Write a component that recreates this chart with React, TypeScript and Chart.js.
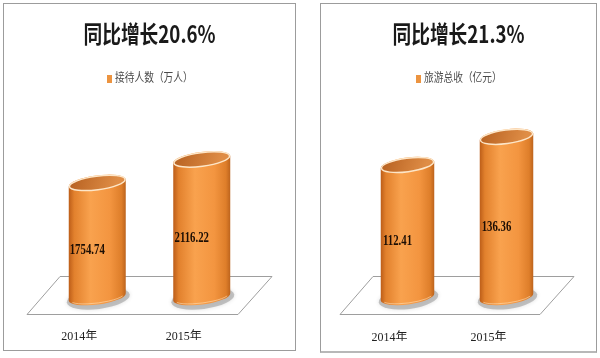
import React, { useEffect, useRef } from "react";
import { Chart, registerables } from "chart.js";

Chart.register(...registerables);

// ---- data ----
const years = ["2014年", "2015年"];
const visitors = [1754.74, 2116.22];
const revenue = [112.41, 136.36];
const visitorsTitle = "同比增长20.6%";
const revenueTitle = "同比增长21.3%";
const visitorsLegend = "接待人数（万人）";
const revenueLegend = "旅游总收（亿元）";
const visitorsMax = 3000;
const revenueMax = 166;

const ORANGE = "#ec9440";

function drawCylinder(ctx: CanvasRenderingContext2D, x: number, yt: number, yb: number, rx: number) {
  const ry = 7.5;
  const rot = -0.13;
  ctx.save();
  // ground shadow
  ctx.beginPath();
  ctx.ellipse(x + 1, yb + 1.5, rx + 3, ry + 3, rot, 0, Math.PI * 2);
  ctx.fillStyle = "rgba(160,160,160,0.6)";
  ctx.shadowColor = "rgba(0,0,0,0.2)";
  ctx.shadowBlur = 4;
  ctx.fill();
  ctx.shadowBlur = 0;
  ctx.shadowColor = "transparent";
  // body
  const g = ctx.createLinearGradient(x - rx, 0, x + rx, 0);
  g.addColorStop(0, "#bb5c18");
  g.addColorStop(0.1, "#e2812d");
  g.addColorStop(0.38, "#f9a24e");
  g.addColorStop(0.72, "#f39540");
  g.addColorStop(0.92, "#de7e2a");
  g.addColorStop(1, "#bb621c");
  ctx.beginPath();
  ctx.ellipse(x, yb, rx, ry, rot, 0, Math.PI, false);
  ctx.ellipse(x, yt, rx, ry, rot, Math.PI, Math.PI * 2, false);
  ctx.closePath();
  ctx.fillStyle = g;
  ctx.fill();
  // bottom highlight
  ctx.beginPath();
  ctx.ellipse(x, yb, rx - 1.5, ry - 1.5, rot, 0.12 * Math.PI, 0.88 * Math.PI);
  ctx.strokeStyle = "rgba(255,228,190,0.55)";
  ctx.lineWidth = 1;
  ctx.stroke();
  // top face
  const tg = ctx.createLinearGradient(x - rx, yt - ry, x + rx * 0.6, yt + ry);
  tg.addColorStop(0, "#b55f1f");
  tg.addColorStop(1, "#df8d46");
  ctx.beginPath();
  ctx.ellipse(x, yt, rx - 0.7, ry - 0.7, rot, 0, Math.PI * 2);
  ctx.fillStyle = tg;
  ctx.fill();
  ctx.strokeStyle = "#fde6c8";
  ctx.lineWidth = 1.5;
  ctx.stroke();
  ctx.restore();
}

function condensedText(ctx: CanvasRenderingContext2D, text: string, x: number, y: number, font: string, color: string, sx: number, align: CanvasTextAlign) {
  ctx.save();
  ctx.font = font;
  ctx.fillStyle = color;
  ctx.textAlign = align;
  ctx.textBaseline = "middle";
  ctx.translate(x, y);
  ctx.scale(sx, 1);
  ctx.fillText(text, 0, 0);
  ctx.restore();
}

const decorPlugin = {
  id: "decor",
  beforeDatasetsDraw(chart: any) {
    const { ctx, chartArea } = chart;
    const L = chartArea.left, R = chartArea.right, B = chartArea.bottom;
    const yLow = Math.round(B + 17) + 0.5;
    const yHigh = Math.round(B - 21) + 0.5;
    ctx.save();
    ctx.beginPath();
    ctx.moveTo(L - 18, yLow);
    ctx.lineTo(R - 16, yLow);
    ctx.lineTo(R + 18, yHigh);
    ctx.lineTo(L + 15, yHigh);
    ctx.closePath();
    ctx.fillStyle = "#ffffff";
    ctx.fill();
    ctx.strokeStyle = "#9e9e9e";
    ctx.lineWidth = 1;
    ctx.stroke();
    ctx.restore();
  },
  afterDatasetsDraw(chart: any) {
    const { ctx } = chart;
    const meta = chart.getDatasetMeta(0);
    const values = chart.data.datasets[0].data as number[];
    meta.data.forEach((bar: any) => {
      const { x, y, base, width } = bar.getProps(["x", "y", "base", "width"], true);
      drawCylinder(ctx, x, y, base, width / 2);
    });
    meta.data.forEach((bar: any, i: number) => {
      const { x, y, base } = bar.getProps(["x", "y", "base"], true);
      condensedText(ctx, values[i].toFixed(2), x - 10, (y + base) / 2 + 10,
        'bold 15px "Liberation Serif"', "#1c0e04", 0.72, "center");
    });
  },
  afterDraw(chart: any, _args: any, opts: any) {
    const { ctx } = chart;
    const cx = chart.width / 2;
    condensedText(ctx, opts.title, cx, 30, 'bold 24px "Noto Sans CJK SC"', "#1a1a1a", 0.78, "center");
    // legend
    ctx.save();
    ctx.font = '12px "Liberation Serif", "Noto Sans CJK SC"';
    const sx = 0.81;
    const tw = ctx.measureText(opts.legend).width * sx;
    const total = 5 + 3 + tw;
    const x0 = Math.round(cx - total / 2);
    ctx.fillStyle = opts.color;
    ctx.fillRect(x0, 71, 5, 8);
    ctx.restore();
    condensedText(ctx, opts.legend, x0 + 8, 75, '12px "Liberation Serif", "Noto Sans CJK SC"', "#4a4a4a", sx, "left");
  },
};

type PanelProps = {
  values: number[];
  title: string;
  legend: string;
  yMax: number;
  width: number;
  height: number;
  padLeft: number;
  padRight: number;
  padBottom: number;
  tickPad: number;
  axisHeight: number;
  barPct: number;
};

function Panel(p: PanelProps) {
  const ref = useRef<HTMLCanvasElement | null>(null);
  useEffect(() => {
    if (!ref.current) return;
    const chart = new Chart(ref.current, {
      type: "bar",
      data: {
        labels: years,
        datasets: [
          {
            label: p.legend,
            data: p.values,
            backgroundColor: "rgba(0,0,0,0)",
            borderWidth: 0,
            barPercentage: p.barPct,
            categoryPercentage: 1,
          },
        ],
      },
      options: {
        animation: false,
        responsive: false,
        maintainAspectRatio: false,
        layout: { padding: { left: p.padLeft, right: p.padRight, top: 98, bottom: p.padBottom } },
        plugins: {
          legend: { display: false },
          title: { display: false },
          tooltip: { enabled: false },
          decor: { title: p.title, legend: p.legend, color: ORANGE },
        } as any,
        scales: {
          x: {
            grid: { display: false, drawTicks: false },
            border: { display: false },
            afterFit: (scale: any) => { scale.height = p.axisHeight; },
            ticks: {
              padding: p.tickPad,
              labelOffset: -18,
              color: "#222",
              font: { family: '"Liberation Serif", "Noto Sans CJK SC"', size: 12 },
            },
          },
          y: { display: false, min: 0, max: p.yMax },
        },
      },
      plugins: [decorPlugin as any],
    });
    return () => chart.destroy();
  }, []);
  return <canvas ref={ref} width={p.width} height={p.height} style={{ width: p.width, height: p.height, display: "block" }} />;
}

export default function App() {
  return (
    <div style={{ position: "absolute", left: 0, top: 0, width: 600, height: 358, background: "#fff", overflow: "hidden" }}>
      <div style={{ position: "absolute", left: 3, top: 3, border: "1px solid #9c9c9c", width: 291, height: 346 }}>
        <Panel values={visitors} title={visitorsTitle} legend={visitorsLegend} yMax={visitorsMax}
          width={291} height={346} padLeft={41} padRight={41} padBottom={10} tickPad={33} axisHeight={43} barPct={0.55} />
      </div>
      <div style={{ position: "absolute", left: 320, top: 3, border: "1px solid #9c9c9c", borderBottom: "2px solid #b8b8b8", width: 275, height: 347 }}>
        <Panel values={revenue} title={revenueTitle} legend={revenueLegend} yMax={revenueMax}
          width={275} height={347} padLeft={37} padRight={40} padBottom={10} tickPad={34} axisHeight={44} barPct={0.545} />
      </div>
    </div>
  );
}
